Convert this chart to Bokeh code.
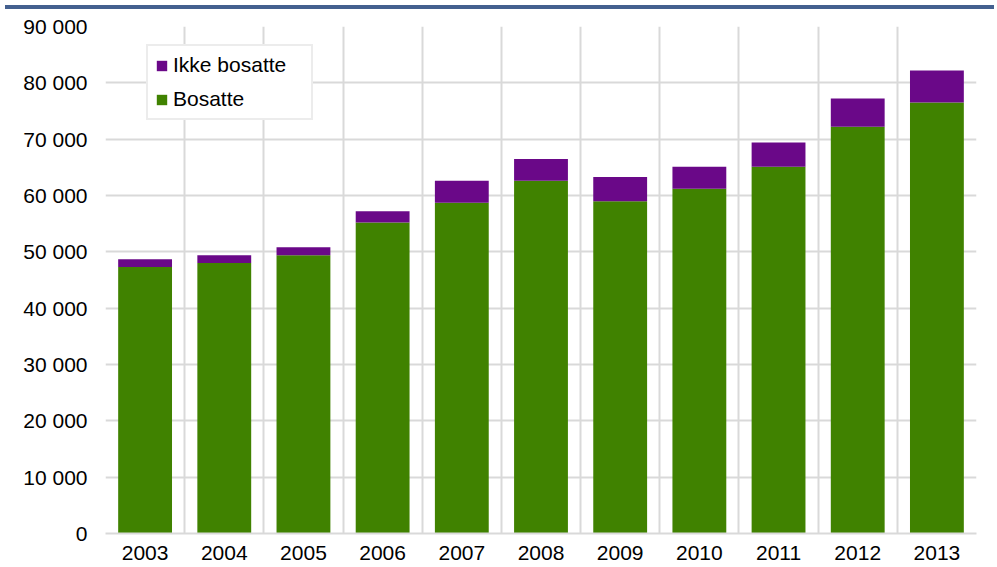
from bokeh.plotting import figure
from bokeh.models import Range1d, FixedTicker, Legend, LegendItem, Div, ColumnDataSource
from bokeh.layouts import column
from bokeh.embed import file_html
from bokeh.resources import INLINE

years = ["2003", "2004", "2005", "2006", "2007", "2008", "2009", "2010", "2011", "2012", "2013"]
bosatte = [47300, 48000, 49400, 55200, 58700, 62600, 59000, 61200, 65100, 72200, 76500]
ikke_bosatte = [1400, 1400, 1400, 2000, 3900, 3900, 4300, 3900, 4300, 5000, 5700]
y_ticks = [0, 10000, 20000, 30000, 40000, 50000, 60000, 70000, 80000, 90000]
y_labels = ["0", "10 000", "20 000", "30 000", "40 000", "50 000", "60 000", "70 000", "80 000", "90 000"]

xs = list(range(len(years)))
totals = [b + i for b, i in zip(bosatte, ikke_bosatte)]
src = ColumnDataSource(dict(x=xs, bos=bosatte, tot=totals))

GREEN = "#408200"
PURPLE = "#6a0888"
GRID = "#d9d9d9"
FONT = "Liberation Sans"

p = figure(width=989, height=548, output_backend="svg", toolbar_location=None,
           x_range=Range1d(-0.5, len(years) - 0.5), y_range=Range1d(0, 90000),
           min_border_left=105, min_border_right=13, min_border_top=12, min_border_bottom=26)
p.outline_line_color = None

r_bos = p.vbar(x="x", bottom=0, top="bos", width=0.68, source=src, fill_color=GREEN, line_color=None)
r_ikke = p.vbar(x="x", bottom="bos", top="tot", width=0.68, source=src, fill_color=PURPLE, line_color=None)

# axes
p.yaxis.ticker = FixedTicker(ticks=y_ticks)
p.yaxis.major_label_overrides = {t: l for t, l in zip(y_ticks, y_labels)}
p.xaxis.ticker = FixedTicker(ticks=xs)
p.xaxis.major_label_overrides = {x: y for x, y in zip(xs, years)}
for ax in (p.xaxis[0], p.yaxis[0]):
    ax.major_tick_line_color = None
    ax.minor_tick_line_color = None
    ax.major_label_text_font = FONT
    ax.major_label_text_font_size = "21px"
    ax.major_label_text_color = "#000000"
p.yaxis.axis_line_color = None
p.xaxis.axis_line_color = GRID
p.xaxis.axis_line_width = 2
p.yaxis.major_label_standoff = 12
p.xaxis.major_label_standoff = 6

p.ygrid.ticker = FixedTicker(ticks=y_ticks)
p.ygrid.grid_line_color = GRID
p.ygrid.grid_line_width = 2
p.xgrid.ticker = FixedTicker(ticks=[i - 0.5 for i in range(len(years) + 1)])
p.xgrid.grid_line_color = GRID
p.xgrid.grid_line_width = 2

legend = Legend(items=[LegendItem(label="Ikke bosatte", renderers=[r_ikke]),
                       LegendItem(label="Bosatte", renderers=[r_bos])],
                location=(41, 413), orientation="vertical",
                label_text_font=FONT, label_text_font_size="21px", label_text_color="#000000",
                glyph_width=13, glyph_height=13, label_standoff=5,
                label_height=23, label_width=131, spacing=10, padding=7, margin=0,
                border_line_color=GRID, border_line_width=2, background_fill_alpha=1)
p.add_layout(legend)

bar = Div(width=989, height=4, styles={"background-color": "#44608f"})
layout = column(bar, p, spacing=0)

open("out.html", "w").write(file_html(layout, INLINE))
